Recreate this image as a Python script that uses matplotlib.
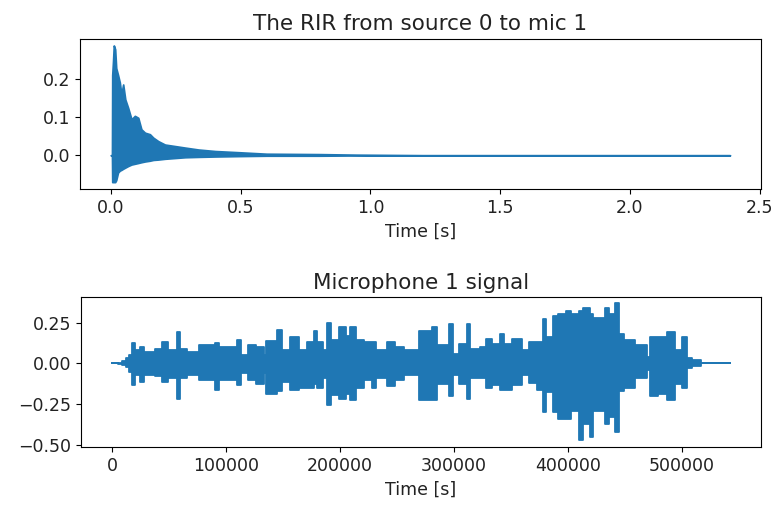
import matplotlib
matplotlib.use("Agg")
import matplotlib.pyplot as plt

# RIR envelope: time [s], upper peak, lower peak
rir_t = [0.0, 0.004, 0.005, 0.008, 0.011, 0.016, 0.020, 0.027, 0.034, 0.040,
         0.047, 0.055, 0.066, 0.079, 0.092, 0.105, 0.117, 0.131, 0.150, 0.163,
         0.182, 0.208, 0.247, 0.286, 0.337, 0.402, 0.49, 0.6, 0.8, 1.0, 1.2, 2.385]
rir_hi = [0.0, 0.0, 0.21, 0.245, 0.287, 0.277, 0.228, 0.21, 0.19, 0.159,
          0.185, 0.146, 0.124, 0.094, 0.103, 0.098, 0.068, 0.059, 0.055, 0.046,
          0.037, 0.028, 0.024, 0.02, 0.015, 0.011, 0.008, 0.004, 0.003, 0.001, 0.0, 0.0]
rir_lo = [0.0, 0.0, -0.07, -0.07, -0.07, -0.07, -0.065, -0.045, -0.04, -0.038,
          -0.035, -0.032, -0.028, -0.024, -0.022, -0.02, -0.018, -0.016, -0.014, -0.012,
          -0.011, -0.009, -0.007, -0.005, -0.004, -0.003, -0.002, -0.001, -0.001, 0.0, 0.0, 0.0]

# microphone signal envelope: sample index (thousands), upper peak, lower peak
mic_k = [0, 5, 9, 12, 15, 18, 20, 25, 28, 38, 44, 49, 57, 60, 66, 76, 90, 94,
         110, 113, 119, 126, 133, 135, 145, 149, 156, 164, 171, 177, 180, 185,
         189, 192, 199, 205, 209, 214, 221, 228, 232, 241, 248, 256, 269, 281,
         285, 296, 299, 304, 311, 314, 323, 328, 333, 340, 344, 351, 360, 366,
         373, 378, 381, 387, 391, 398, 403, 410, 413, 419, 422, 432, 436, 441,
         445, 449, 459, 469, 472, 479, 487, 494, 500, 504, 509, 517, 542]
mic_hi = [0.0, 0.003, 0.015, 0.03, 0.05, 0.124, 0.079, 0.10, 0.069, 0.085, 0.13,
          0.08, 0.19, 0.09, 0.068, 0.11, 0.124, 0.10, 0.14, 0.05, 0.11, 0.10,
          0.05, 0.136, 0.205, 0.079, 0.164, 0.079, 0.13, 0.20, 0.13, 0.079,
          0.25, 0.14, 0.22, 0.17, 0.22, 0.14, 0.13, 0.13, 0.079, 0.13, 0.10,
          0.079, 0.20, 0.22, 0.115, 0.24, 0.06, 0.12, 0.24, 0.09, 0.10, 0.15,
          0.12, 0.18, 0.12, 0.15, 0.079, 0.13, 0.13, 0.27, 0.16, 0.29, 0.30,
          0.32, 0.30, 0.32, 0.34, 0.30, 0.28, 0.34, 0.30, 0.368, 0.18, 0.14,
          0.11, 0.04, 0.16, 0.16, 0.19, 0.079, 0.16, 0.03, 0.02, 0.0, 0.0]
mic_lo = [0.0, -0.003, -0.012, -0.025, -0.05, -0.134, -0.073, -0.114, -0.073,
          -0.08, -0.114, -0.09, -0.215, -0.09, -0.07, -0.10, -0.16, -0.10,
          -0.134, -0.06, -0.10, -0.124, -0.06, -0.185, -0.17, -0.114, -0.165,
          -0.15, -0.15, -0.124, -0.15, -0.09, -0.256, -0.195, -0.215, -0.185,
          -0.226, -0.15, -0.10, -0.15, -0.09, -0.14, -0.10, -0.07, -0.226,
          -0.226, -0.124, -0.20, -0.07, -0.124, -0.215, -0.09, -0.09, -0.15,
          -0.13, -0.165, -0.165, -0.13, -0.07, -0.12, -0.165, -0.30, -0.175,
          -0.30, -0.34, -0.34, -0.29, -0.47, -0.37, -0.45, -0.29, -0.37, -0.33,
          -0.42, -0.17, -0.15, -0.09, -0.04, -0.20, -0.19, -0.226, -0.124,
          -0.15, -0.03, -0.015, 0.0, 0.0]

blue = "#1f77b4"

# each envelope value holds until the next read position (blocky edges)
step_x, step_hi, step_lo = [], [], []
for i in range(len(mic_k) - 1):
    step_x += [mic_k[i] * 1000, mic_k[i + 1] * 1000]
    step_hi += [mic_hi[i], mic_hi[i]]
    step_lo += [mic_lo[i], mic_lo[i]]

fig = plt.figure(figsize=(7.74, 5.08), dpi=100)
ax1 = fig.add_axes([0.1034, 0.628, 0.8796, 0.296])
ax2 = fig.add_axes([0.1047, 0.12, 0.8783, 0.295])

ax1.fill_between(rir_t, rir_hi, rir_lo, color=blue, linewidth=1.3)
ax1.set_title("The RIR from source 0 to mic 1", fontsize=15.5, color="#222222")
ax1.set_xlabel("Time [s]", fontsize=12.5, color="#222222")
ax1.set_yticks([0.0, 0.1, 0.2])
ax1.set_xticks([0.0, 0.5, 1.0, 1.5, 2.0, 2.5])
ax1.set_ylim(-0.088, 0.305)
ax1.tick_params(labelsize=12.5, labelcolor="#222222")

ax2.fill_between(step_x, step_hi, step_lo, color=blue, linewidth=1.3)
ax2.set_title("Microphone 1 signal", fontsize=15.5, color="#222222")
ax2.set_xlabel("Time [s]", fontsize=12.5, color="#222222")
ax2.set_yticks([-0.5, -0.25, 0.0, 0.25])
ax2.set_xticks([0, 100000, 200000, 300000, 400000, 500000])
ax2.set_xlim(-27100, 569100)
ax2.set_ylim(-0.512, 0.405)
ax2.tick_params(labelsize=12.5, labelcolor="#222222")

fig.savefig("out.png", dpi=100)
